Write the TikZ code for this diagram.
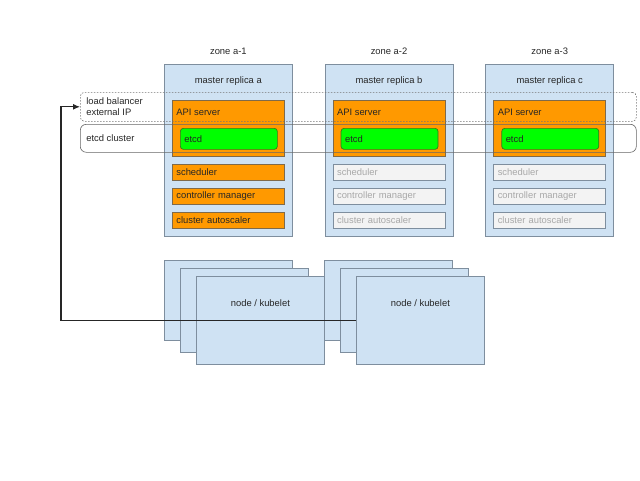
\documentclass[tikz,border=0pt]{standalone}
\usepackage{fontspec}
\setmainfont{Liberation Sans}
\usetikzlibrary{positioning,calc,arrows.meta}

\definecolor{mastfill}{HTML}{CFE2F3}
\definecolor{mastline}{HTML}{7E8E9E}
\definecolor{apiorange}{HTML}{FF9900}
\definecolor{apiline}{HTML}{7F6A4A}
\definecolor{etcdgreen}{HTML}{00FF00}
\definecolor{etcdline}{HTML}{38761D}
\definecolor{offfill}{HTML}{F3F3F3}
\definecolor{offline}{HTML}{7E8E9E}
\definecolor{offtext}{HTML}{A8A8A8}
\definecolor{txt}{HTML}{262626}

\begin{document}
\begin{tikzpicture}[x=1pt,y=-1pt,
	every node/.style={font=\fontsize{9.4}{11}\selectfont,text=txt,inner sep=0pt,line width=0.7pt},
	master/.style={draw=mastline,fill=mastfill,anchor=north west,minimum width=128pt,minimum height=172pt},
	api/.style={draw=apiline,fill=apiorange,anchor=north west,minimum width=112pt,minimum height=56pt},
	etcd/.style={draw=etcdline,fill=etcdgreen,rounded corners=3pt,anchor=north west,minimum width=97pt,minimum height=21pt,text width=89pt,align=left},
	comp/.style={draw=apiline,fill=apiorange,anchor=north west,minimum width=112pt,minimum height=16pt,text width=104pt,align=left},
	compoff/.style={draw=offline,fill=offfill,text=offtext,anchor=north west,minimum width=112pt,minimum height=16pt,text width=104pt,align=left},
	worker/.style={draw=mastline,fill=mastfill,anchor=north west,minimum width=128pt},
	groupbox/.style={anchor=north west,minimum width=556pt,line width=0.6pt}]

	\useasboundingbox (0,0) rectangle (640,480);

	% zone a-1
	\node[master] (ma) at (164,64) {};
	\node (za) at ($(ma.north)+(0,-13)$) {zone a-1};
	\node (la) at ($(ma.north)+(0,17)$) {master replica a};
	\node[api] (apia) at ($(ma.north west)+(8,36)$) {};
	\node[anchor=west] (apita) at ($(apia.north west)+(4,12)$) {API server};
	\node[etcd] (etcda) at ($(ma.north west)+(16,64)$) {etcd};
	\node[comp] (scha) at ($(ma.north west)+(8,100)$) {scheduler};
	\node[comp] (cma) at ($(ma.north west)+(8,124)$) {controller manager};
	\node[comp] (caa) at ($(ma.north west)+(8,148)$) {cluster autoscaler};

	% zone a-2
	\node[master,right=32pt of ma] (mb) {};
	\node (zb) at ($(mb.north)+(0,-13)$) {zone a-2};
	\node (lb2) at ($(mb.north)+(0,17)$) {master replica b};
	\node[api] (apib) at ($(mb.north west)+(8,36)$) {};
	\node[anchor=west] (apitb) at ($(apib.north west)+(4,12)$) {API server};
	\node[etcd] (etcdb) at ($(mb.north west)+(16,64)$) {etcd};
	\node[compoff] (schb) at ($(mb.north west)+(8,100)$) {scheduler};
	\node[compoff] (cmb) at ($(mb.north west)+(8,124)$) {controller manager};
	\node[compoff] (cab) at ($(mb.north west)+(8,148)$) {cluster autoscaler};

	% zone a-3
	\node[master,right=32pt of mb] (mc) {};
	\node (zc) at ($(mc.north)+(0,-13)$) {zone a-3};
	\node (lc) at ($(mc.north)+(0,17)$) {master replica c};
	\node[api] (apic) at ($(mc.north west)+(8,36)$) {};
	\node[anchor=west] (apitc) at ($(apic.north west)+(4,12)$) {API server};
	\node[etcd] (etcdc) at ($(mc.north west)+(16,64)$) {etcd};
	\node[compoff] (schc) at ($(mc.north west)+(8,100)$) {scheduler};
	\node[compoff] (cmc) at ($(mc.north west)+(8,124)$) {controller manager};
	\node[compoff] (cac) at ($(mc.north west)+(8,148)$) {cluster autoscaler};

	% load balancer and etcd cluster
	\node[groupbox,draw=black!55,dash pattern=on 1.5pt off 1.5pt,rounded corners=4pt,minimum height=29pt] (lb) at (80,92) {};
	\node[anchor=west,align=left] (lbt) at ($(lb.west)+(6,0)$) {load balancer\\external IP};
	\node[groupbox,draw=black!60,rounded corners=6pt,minimum height=28pt] (ec) at (80,124) {};
	\node[anchor=west] (ect) at ($(ec.west)+(6,0)$) {etcd cluster};

	% nodes
	\node[worker,minimum height=80pt] (wba) at (164,260) {};
	\node[worker,minimum height=84pt] (wma) at ($(wba.north west)+(16,8)$) {};
	\node[worker,minimum height=88pt] (wfa) at ($(wma.north west)+(16,8)$) {};
	\node (wta) at ($(wfa.north)+(0,27)$) {node / kubelet};

	\node[worker,minimum height=80pt] (wbb) at (324,260) {};
	\node[worker,minimum height=84pt] (wmb) at ($(wbb.north west)+(16,8)$) {};
	\node[worker,minimum height=88pt] (wfb) at ($(wmb.north west)+(16,8)$) {};
	\node (wtb) at ($(wfb.north)+(0,27)$) {node / kubelet};

	\coordinate (bend) at (61,0);
	\draw[line width=1.1pt,black!85,-{Latex[length=7pt,width=6pt]}] (wfb.west) -| (bend |- lb.west) -- (lb.west);

\end{tikzpicture}
\end{document}
